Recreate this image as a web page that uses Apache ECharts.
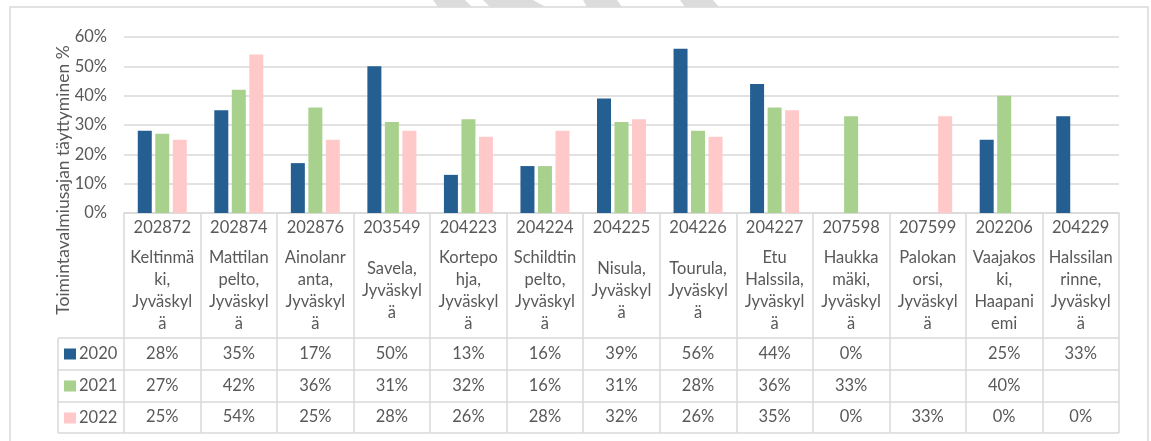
<!DOCTYPE html>
<html>
<head>
<meta charset="utf-8">
<script src="https://cdn.jsdelivr.net/npm/echarts@6/dist/echarts.min.js"></script>
<style>
  html, body { margin: 0; padding: 0; background: #fff; }
  #chart { width: 1151px; height: 441px; }
</style>
</head>
<body>
<div id="chart"></div>
<script>
// 数据
const codes = ['202872', '202874', '202876', '203549', '204223', '204224', '204225', '204226', '204227', '207598', '207599', '202206', '204229']
const names = [
  'Keltinmä\nki,\nJyväskyl\nä',
  'Mattilan\npelto,\nJyväskyl\nä',
  'Ainolanr\nanta,\nJyväskyl\nä',
  'Savela,\nJyväskyl\nä',
  'Kortepo\nhja,\nJyväskyl\nä',
  'Schildtin\npelto,\nJyväskyl\nä',
  'Nisula,\nJyväskyl\nä',
  'Tourula,\nJyväskyl\nä',
  'Etu\nHalssila,\nJyväskyl\nä',
  'Haukka\nmäki,\nJyväskyl\nä',
  'Palokan\norsi,\nJyväskyl\nä',
  'Vaajakos\nki,\nHaapani\nemi',
  'Halssilan\nrinne,\nJyväskyl\nä'
]
const years = ['2020', '2021', '2022']
const v2020 = [28, 35, 17, 50, 13, 16, 39, 56, 44, 0, null, 25, 33]
const v2021 = [27, 42, 36, 31, 32, 16, 31, 28, 36, 33, null, 40, null]
const v2022 = [25, 54, 25, 28, 26, 28, 32, 26, 35, 0, 33, 0, 0]
const yTicks = [0, 10, 20, 30, 40, 50, 60]

const colors = ['#255E91', '#A9D18E', '#FFC9C9']
const lineColor = '#d9d9d9'
const textColor = '#595959'
const font = 'Lato'
const fs = 16.5

const fmt = (v) => (v === null || v === undefined ? '' : v + '%')

// 表格行（每行一个隐藏的x轴，只用标签）
const rowAxis = (vals, margin) => ({
  type: 'category',
  data: codes,
  position: 'bottom',
  axisLine: { show: false },
  axisTick: { show: false },
  axisLabel: {
    interval: 0,
    margin: margin,
    verticalAlign: 'middle',
    color: textColor,
    fontFamily: font,
    fontSize: fs,
    formatter: (v, i) => fmt(vals[i]),
  },
})

const option = {
  animation: false,
  color: colors,
  grid: { left: 124, right: 32, top: 37, bottom: 228, outerBoundsMode: 'none' },
  legend: {
    orient: 'vertical',
    left: 64,
    top: 344,
    padding: 0,
    itemWidth: 12,
    itemHeight: 11,
    itemGap: 12,
    icon: 'rect',
    selectedMode: false,
    textStyle: { color: textColor, fontFamily: font, fontSize: fs, lineHeight: 20, padding: [0, 0, 0, -2] },
    data: years,
  },
  xAxis: [
    {
      type: 'category',
      data: codes,
      axisLine: { show: true, lineStyle: { color: lineColor, width: 1.5 } },
      axisTick: { show: true, length: 220, lineStyle: { color: lineColor, width: 1.5 } },
      axisLabel: { interval: 0, margin: 6, color: textColor, fontFamily: font, fontSize: fs },
    },
    {
      type: 'category',
      data: names,
      position: 'bottom',
      axisLine: { show: false },
      axisTick: { show: false },
      axisLabel: {
        interval: 0,
        margin: 78,
        verticalAlign: 'middle',
        align: 'center',
        lineHeight: 22,
        color: textColor,
        fontFamily: font,
        fontSize: fs,
      },
    },
    rowAxis(v2020, 141),
    rowAxis(v2021, 173),
    rowAxis(v2022, 204),
  ],
  yAxis: {
    type: 'value',
    min: yTicks[0],
    max: yTicks[yTicks.length - 1],
    interval: 10,
    axisLine: { show: false },
    axisTick: { show: false },
    splitLine: { lineStyle: { color: lineColor, width: 1.5 } },
    axisLabel: { margin: 17, color: textColor, fontFamily: font, fontSize: fs, formatter: '{value}%' },
  },
  series: [
    { name: years[0], type: 'bar', data: v2020, barWidth: 14, barGap: '25%' },
    { name: years[1], type: 'bar', data: v2021, barWidth: 14, barGap: '25%' },
    { name: years[2], type: 'bar', data: v2022, barWidth: 14, barGap: '25%' },
  ],
  graphic: [
    // 外框
    { type: 'rect', shape: { x: 10, y: 7, width: 1138, height: 450 }, style: { fill: 'none', stroke: lineColor, lineWidth: 1.5 }, silent: true },
    // 表格横线
    { type: 'line', shape: { x1: 58, y1: 338, x2: 1119, y2: 338 }, style: { stroke: lineColor, lineWidth: 1.5 } },
    { type: 'line', shape: { x1: 58, y1: 370, x2: 1119, y2: 370 }, style: { stroke: lineColor, lineWidth: 1.5 } },
    { type: 'line', shape: { x1: 58, y1: 402, x2: 1119, y2: 402 }, style: { stroke: lineColor, lineWidth: 1.5 } },
    { type: 'line', shape: { x1: 58, y1: 433, x2: 1119, y2: 433 }, style: { stroke: lineColor, lineWidth: 1.5 } },
    { type: 'line', shape: { x1: 58, y1: 338, x2: 58, y2: 433 }, style: { stroke: lineColor, lineWidth: 1.5 } },
    // 顶部水印条纹
    { type: 'polygon', shape: { points: [[433, 0], [465, 0], [472, 7], [438, 7]] }, style: { fill: '#dcdcdc' } },
    { type: 'polygon', shape: { points: [[483, 0], [533, 0], [546, 7], [490, 7]] }, style: { fill: '#dcdcdc' } },
    { type: 'polygon', shape: { points: [[583, 0], [617, 0], [622, 7], [587, 7]] }, style: { fill: '#dcdcdc' } },
    { type: 'polygon', shape: { points: [[680, 0], [713, 0], [719, 7], [685, 7]] }, style: { fill: '#dcdcdc' } },
    // y轴标题
    {
      type: 'text',
      x: 63,
      y: 180,
      rotation: Math.PI / 2,
      style: {
        text: 'Toimintavalmiusajan täyttyminen %',
        fill: textColor,
        font: '17.5px Lato',
        align: 'center',
        verticalAlign: 'middle',
      },
    },
  ],
}

const myChart = echarts.init(document.getElementById('chart'))
myChart.setOption(option)
</script>
</body>
</html>
